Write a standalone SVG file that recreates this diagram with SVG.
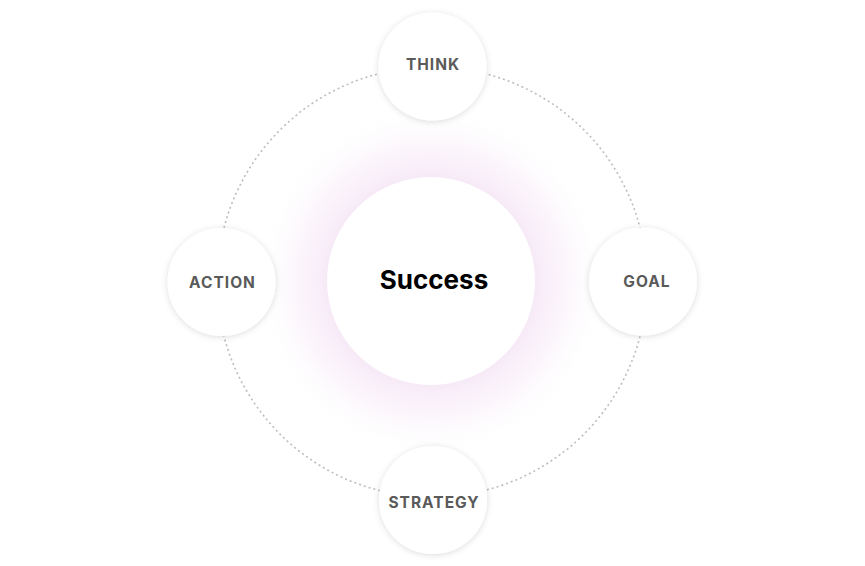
<svg xmlns="http://www.w3.org/2000/svg" width="865" height="566" viewBox="0 0 865 566">
  <defs>
    <radialGradient id="glow" cx="431" cy="281" r="175" gradientUnits="userSpaceOnUse">
      <stop offset="0.58" stop-color="#f0d6f0" stop-opacity="0.55"/>
      <stop offset="0.78" stop-color="#f4e2f4" stop-opacity="0.3"/>
      <stop offset="1" stop-color="#ffffff" stop-opacity="0"/>
    </radialGradient>
    <filter id="shadow" x="-30%" y="-30%" width="160%" height="160%">
      <feDropShadow dx="0" dy="1" stdDeviation="3" flood-color="#000" flood-opacity="0.14"/>
    </filter>
    <style>
      .node { fill: #ffffff; filter: url(#shadow); }
      .label { font-family: Inter, "Liberation Sans", sans-serif; font-weight: 700; font-size: 15.5px; fill: #5a5a5a; text-anchor: middle; letter-spacing: 1px; }
      .center-label { font-family: Inter, "Liberation Sans", sans-serif; font-weight: 700; font-size: 26px; fill: #000; text-anchor: middle; }
      .ring { fill: none; stroke: #bdbdbd; stroke-width: 1.6; stroke-dasharray: 2 3; }
    </style>
  </defs>
  <rect width="865" height="566" fill="#ffffff"/>
  <circle cx="431" cy="281" r="175" fill="url(#glow)"/>
  <g id="connectors">
    <circle class="ring" cx="432" cy="282" r="215"/>
  </g>
  <g id="success">
    <circle cx="431" cy="281" r="104" fill="#ffffff"/>
    <text class="center-label" x="434" y="289">Success</text>
  </g>
  <g id="think">
    <circle class="node" cx="432.5" cy="66.5" r="54"/>
    <text class="label" x="433" y="70">THINK</text>
  </g>
  <g id="goal">
    <circle class="node" cx="643" cy="281.5" r="54"/>
    <text class="label" x="647" y="287">GOAL</text>
  </g>
  <g id="action">
    <circle class="node" cx="221.5" cy="282" r="54"/>
    <text class="label" x="222.5" y="288">ACTION</text>
  </g>
  <g id="strategy">
    <circle class="node" cx="433" cy="500" r="54"/>
    <text class="label" x="434" y="508">STRATEGY</text>
  </g>
</svg>
